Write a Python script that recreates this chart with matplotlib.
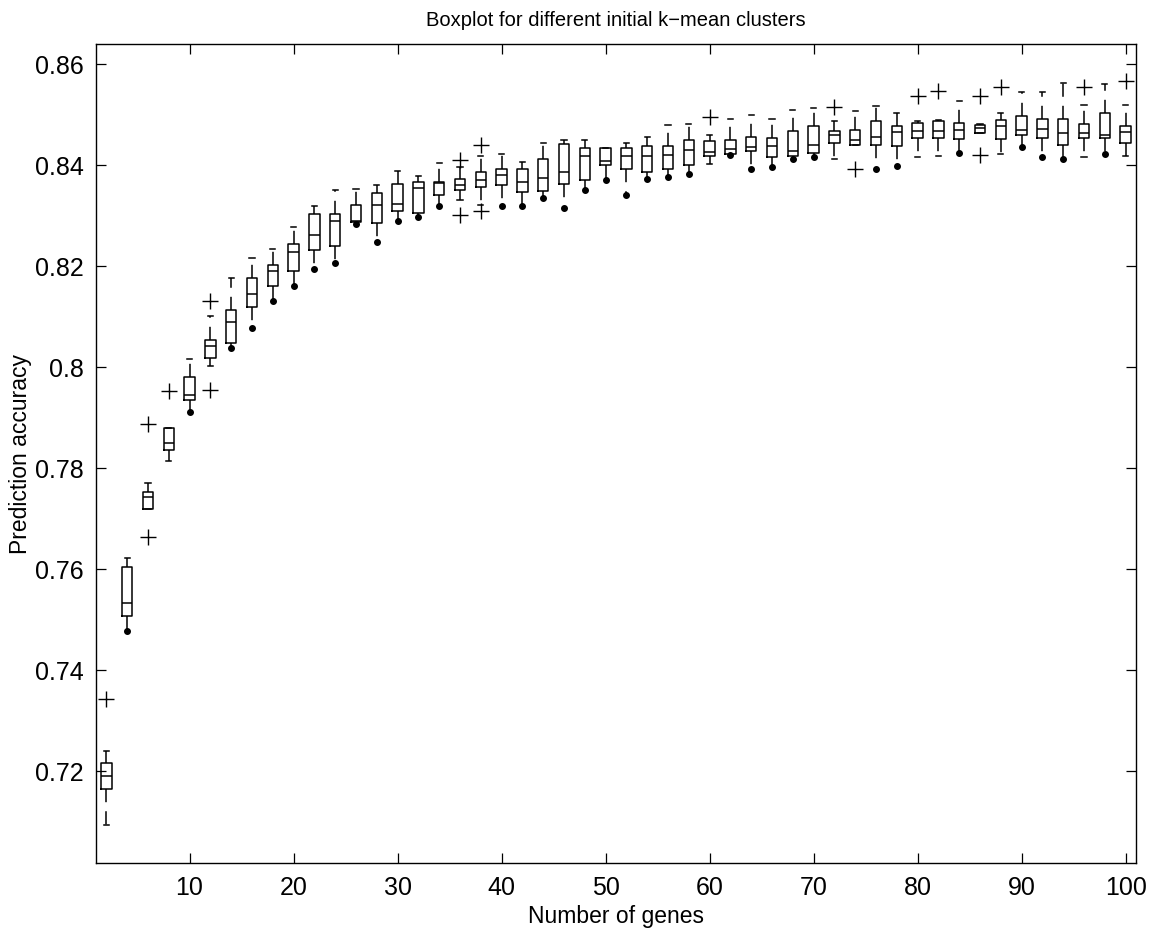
import numpy as np
import matplotlib.pyplot as plt

plt.rcParams['font.family'] = ['Liberation Sans', 'DejaVu Sans']
plt.rcParams['lines.scale_dashes'] = False

genes = np.arange(2, 101, 2)

upper = [0.7239, 0.7622, 0.7770, 0.7880, 0.8016, 0.8100, 0.8176, 0.8215, 0.8234, 0.8278,
         0.8318, 0.8350, 0.8353, 0.8360, 0.8389, 0.8379, 0.8403, 0.8395, 0.8418, 0.8421,
         0.8405, 0.8444, 0.8450, 0.8450, 0.8434, 0.8444, 0.8456, 0.8479, 0.8482, 0.8460,
         0.8492, 0.8498, 0.8492, 0.8508, 0.8512, 0.8488, 0.8506, 0.8517, 0.8502, 0.8487,
         0.8489, 0.8527, 0.8482, 0.8502, 0.8544, 0.8544, 0.8563, 0.8518, 0.8560, 0.8518]
q3 = [0.7215, 0.7603, 0.7752, 0.7880, 0.7980, 0.8054, 0.8112, 0.8176, 0.8202, 0.8244,
      0.8302, 0.8302, 0.8321, 0.8344, 0.8363, 0.8367, 0.8366, 0.8373, 0.8386, 0.8392,
      0.8392, 0.8411, 0.8441, 0.8434, 0.8434, 0.8434, 0.8437, 0.8437, 0.8450, 0.8447,
      0.8450, 0.8456, 0.8453, 0.8467, 0.8477, 0.8467, 0.8470, 0.8487, 0.8477, 0.8483,
      0.8487, 0.8483, 0.8479, 0.8489, 0.8496, 0.8492, 0.8492, 0.8482, 0.8502, 0.8477]
med = [0.7190, 0.7532, 0.7743, 0.7850, 0.7945, 0.8041, 0.8090, 0.8145, 0.8190, 0.8228,
       0.8262, 0.8289, 0.8290, 0.8320, 0.8323, 0.8355, 0.8365, 0.8360, 0.8370, 0.8380,
       0.8366, 0.8374, 0.8386, 0.8418, 0.8407, 0.8418, 0.8418, 0.8420, 0.8430, 0.8425,
       0.8431, 0.8436, 0.8437, 0.8428, 0.8439, 0.8460, 0.8450, 0.8455, 0.8465, 0.8468,
       0.8468, 0.8470, 0.8474, 0.8477, 0.8469, 0.8471, 0.8464, 0.8463, 0.8460, 0.8466]
q1 = [0.7165, 0.7506, 0.7719, 0.7835, 0.7935, 0.8018, 0.8048, 0.8119, 0.8160, 0.8190,
      0.8231, 0.8240, 0.8287, 0.8286, 0.8308, 0.8305, 0.8341, 0.8350, 0.8356, 0.8360,
      0.8347, 0.8348, 0.8363, 0.8370, 0.8399, 0.8392, 0.8386, 0.8392, 0.8399, 0.8418,
      0.8421, 0.8427, 0.8415, 0.8418, 0.8424, 0.8444, 0.8440, 0.8440, 0.8437, 0.8453,
      0.8453, 0.8451, 0.8464, 0.8451, 0.8459, 0.8453, 0.8440, 0.8453, 0.8453, 0.8444]
lower = [0.7092, 0.7477, 0.7719, 0.7813, 0.7910, 0.8002, 0.8038, 0.8077, 0.8131, 0.8160,
         0.8193, 0.8205, 0.8283, 0.8248, 0.8289, 0.8296, 0.8318, 0.8331, 0.8321, 0.8318,
         0.8318, 0.8335, 0.8315, 0.8350, 0.8370, 0.8341, 0.8373, 0.8376, 0.8382, 0.8402,
         0.8420, 0.8392, 0.8395, 0.8412, 0.8415, 0.8412, 0.8440, 0.8392, 0.8398, 0.8415,
         0.8418, 0.8424, 0.8464, 0.8421, 0.8435, 0.8415, 0.8411, 0.8415, 0.8422, 0.8418]
outliers = {
    2: [0.7343], 6: [0.7887, 0.7663], 8: [0.7952], 12: [0.8131, 0.7954],
    36: [0.8409, 0.8301], 38: [0.8440, 0.8308], 60: [0.8495], 72: [0.8514],
    74: [0.8392], 80: [0.8537], 82: [0.8547], 86: [0.8537, 0.8420],
    88: [0.8555], 96: [0.8555], 100: [0.8567],
}

stats = []
for i, g in enumerate(genes):
    stats.append(dict(med=med[i], q1=q1[i], q3=q3[i], whislo=lower[i],
                      whishi=upper[i], fliers=outliers.get(g, [])))

fig = plt.figure(figsize=(11.56, 9.29), dpi=100)
ax = fig.add_axes([0.0830, 0.0700, 0.8997, 0.8816])

lw = 1.1
parts = ax.bxp(stats, positions=genes, widths=1.0, capwidths=0.5, manage_ticks=False,
               boxprops=dict(color='k', lw=lw),
               medianprops=dict(color='k', lw=lw),
               whiskerprops=dict(color='k', lw=lw, linestyle=(0, (9.5, 6.5))),
               capprops=dict(color='k', lw=lw),
               flierprops=dict(marker='+', markersize=11, markeredgecolor='k',
                               markeredgewidth=1.0))

# boxes without outliers end their lower whisker in a dot
for i, g in enumerate(genes):
    if g not in outliers:
        parts['caps'][2 * i].set_visible(False)
        ax.plot(g, lower[i], 'o', color='k', markersize=4)

ax.set_xlim(1, 101)
ax.set_ylim(0.70178, 0.86396)
ax.set_xticks(np.arange(10, 101, 10))
ax.set_xticklabels([str(v) for v in range(10, 101, 10)])
yt = np.arange(0.72, 0.861, 0.02)
ax.set_yticks(yt)
ax.set_yticklabels(['%g' % round(v, 2) for v in yt])
ax.tick_params(direction='in', top=True, right=True, length=7, width=0.9,
               labelsize=18, pad=9)
for s in ax.spines.values():
    s.set_linewidth(1.0)

ax.set_xlabel('Number of genes', fontsize=16.5, labelpad=3)
ax.set_ylabel('Prediction accuracy', fontsize=16.5, labelpad=2)
ax.set_title('Boxplot for different initial k\u2212mean clusters', fontsize=14.5, pad=14)

fig.savefig('out.png', dpi=100)
